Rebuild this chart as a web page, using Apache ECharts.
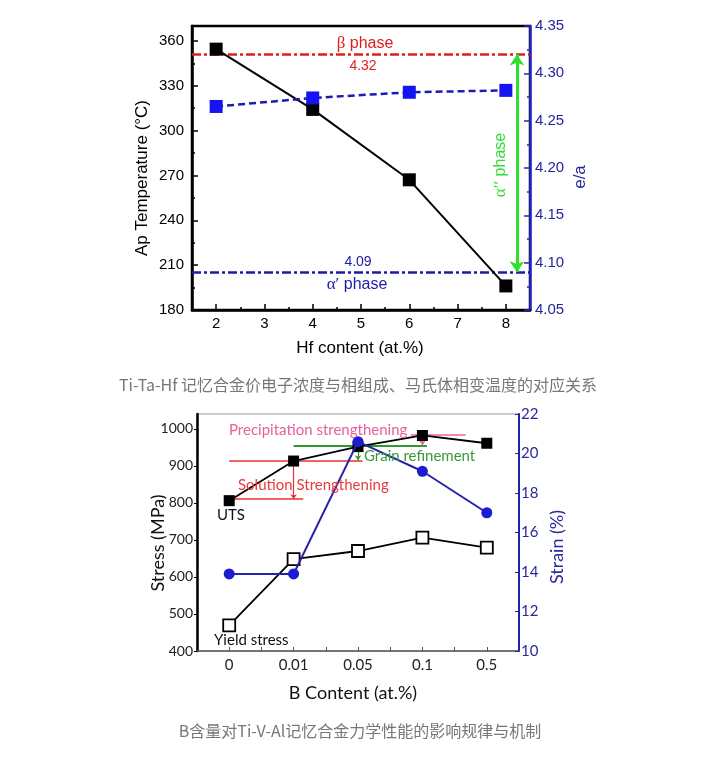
<!DOCTYPE html>
<html><head><meta charset="utf-8">
<script src="https://cdn.jsdelivr.net/npm/echarts@6/dist/echarts.min.js"></script>
<style>html,body{margin:0;padding:0;background:#fff}#c{width:719px;height:780px}</style>
</head><body><div id="c"></div>
<script>
// ---------- Chart 1: Ti-Ta-Hf ----------
const hfContent = [2, 4, 6, 8];
const apTemperature = [354.5, 314.2, 267.1, 196.1];
const eaRatio = [4.265, 4.274, 4.280, 4.282];
const betaBoundary = 4.32;
const alphaBoundary = 4.09;
const alphaArrowX = 8.23;
const hfRange = [1.5, 8.5];
const hfTicks = [2, 3, 4, 5, 6, 7, 8];
const hfMinorTicks = [2.5, 3.5, 4.5, 5.5, 6.5, 7.5];
const tempRange = [180, 370];
const tempTicks = [180, 210, 240, 270, 300, 330, 360];
const tempMinorTicks = [195, 225, 255, 285, 315, 345];
const eaRange = [4.05, 4.35];
const eaTicks = [4.05, 4.10, 4.15, 4.20, 4.25, 4.30, 4.35];
const eaMinorTicks = [4.075, 4.125, 4.175, 4.225, 4.275, 4.325];

// ---------- Chart 2: Ti-V-Al ----------
const bContent = ['0', '0.01', '0.05', '0.1', '0.5'];
const uts = [806, 913, 952, 982, 961];
const yieldStress = [469, 648, 670, 706, 679];
const strain = [13.9, 13.9, 20.6, 19.1, 17.0];
const stressRange = [400, 1040];
const stressTicks = [400, 500, 600, 700, 800, 900, 1000];
const strainRange = [10, 22];
const strainTicks = [10, 12, 14, 16, 18, 20, 22];
const bTickPositions = [0, 0.5, 1, 1.5, 2, 2.5, 3, 3.5, 4];
// mechanism level lines: [xStart, xEnd, stress]
const solutionLevels = [[0, 1.15, 810], [0, 2.07, 915]];
const grainLevel = [1.0, 3.07, 955];
const precipLevel = [2.82, 3.67, 985];
// mechanism arrows: [x, fromStress, toStress]
const solutionArrow = [1.0, 810, 915];
const grainArrow = [2.0, 915, 955];
const precipArrow = [3.0, 955, 985];

const SANS = 'Liberation Sans, Arial, sans-serif';
const CAL = 'Lato, Open Sans, sans-serif';
const CJK = 'Noto Sans CJK SC, sans-serif';
const BLUE_AX = '#2424c8';
const BLUE_TX = '#25259a';

function zip(xs, ys) { return xs.map((x, i) => [x, ys[i]]); }
function hline(l, color, w) { return { coords: [[l[0], l[2]], [l[1], l[2]]], lineStyle: { color: color, width: w, opacity: 1 } }; }
function varrow(a, color) { return { coords: [[a[0], a[1]], [a[0], a[2]]], lineStyle: { color: color, width: 1.2, opacity: 1 } }; }

const chart = echarts.init(document.getElementById('c'), null, { renderer: 'canvas' });

const option = {
  backgroundColor: '#fff',
  animation: false,
  grid: [
    { left: 192, top: 26, width: 338, height: 284, show: true, borderColor: '#000', borderWidth: 2.5, backgroundColor: 'transparent' },
    { left: 197, top: 414, width: 322, height: 237, show: true, borderColor: '#999', borderWidth: 1, backgroundColor: 'transparent' }
  ],
  xAxis: [
    { gridIndex: 0, type: 'value', min: hfRange[0], max: hfRange[1], position: 'bottom',
      axisLine: { onZero: false, lineStyle: { color: '#000', width: 2.5 } },
      axisTick: { inside: true, length: 6, lineStyle: { width: 1.5 }, customValues: hfTicks },
      axisLabel: { customValues: hfTicks, color: '#000', fontSize: 15, fontFamily: SANS, margin: 6 },
      splitLine: { show: false } },
    { gridIndex: 0, type: 'value', min: hfRange[0], max: hfRange[1], position: 'bottom',
      axisLine: { show: false, onZero: false },
      axisTick: { inside: true, length: 3, lineStyle: { width: 1.5, color: '#000' }, customValues: hfMinorTicks },
      axisLabel: { show: false }, splitLine: { show: false } },
    { gridIndex: 1, type: 'value', min: -0.5, max: bContent.length - 0.5, position: 'bottom',
      axisLine: { onZero: false, lineStyle: { color: '#555', width: 1.5 } },
      axisTick: { inside: true, length: 4, lineStyle: { color: '#555', width: 1 }, customValues: bTickPositions },
      axisLabel: { customValues: bContent.map((c, i) => i), formatter: v => bContent[Math.round(v)], color: '#222', fontSize: 15, fontFamily: CAL, margin: 7 },
      splitLine: { show: false } }
  ],
  yAxis: [
    { gridIndex: 0, type: 'value', min: tempRange[0], max: tempRange[1], position: 'left',
      axisLine: { show: true, onZero: false, lineStyle: { color: '#000', width: 2.5 } },
      axisTick: { show: true, inside: true, length: 6, lineStyle: { width: 1.5 }, customValues: tempTicks },
      axisLabel: { customValues: tempTicks, color: '#000', fontSize: 15, fontFamily: SANS, margin: 8 },
      splitLine: { show: false } },
    { gridIndex: 0, type: 'value', min: tempRange[0], max: tempRange[1], position: 'left',
      axisLine: { show: false, onZero: false },
      axisTick: { show: true, inside: true, length: 3, lineStyle: { width: 1.5, color: '#000' }, customValues: tempMinorTicks },
      axisLabel: { show: false }, splitLine: { show: false } },
    { gridIndex: 0, type: 'value', min: eaRange[0], max: eaRange[1], position: 'right',
      axisLine: { show: true, onZero: false, lineStyle: { color: BLUE_AX, width: 2.5 } },
      axisTick: { show: true, inside: true, length: 6, lineStyle: { width: 1.5, color: BLUE_AX }, customValues: eaTicks },
      axisLabel: { customValues: eaTicks, formatter: v => v.toFixed(2), color: BLUE_TX, fontSize: 15, fontFamily: SANS, margin: 5 },
      splitLine: { show: false } },
    { gridIndex: 0, type: 'value', min: eaRange[0], max: eaRange[1], position: 'right',
      axisLine: { show: false, onZero: false },
      axisTick: { show: true, inside: true, length: 3, lineStyle: { width: 1.5, color: BLUE_AX }, customValues: eaMinorTicks },
      axisLabel: { show: false }, splitLine: { show: false } },
    { gridIndex: 1, type: 'value', min: stressRange[0], max: stressRange[1], position: 'left',
      axisLine: { show: true, onZero: false, lineStyle: { color: '#000', width: 2.5 } },
      axisTick: { show: true, inside: false, length: 3, lineStyle: { width: 1, color: '#000' }, customValues: stressTicks },
      axisLabel: { customValues: stressTicks, formatter: v => String(v), color: '#222', fontSize: 14, fontFamily: CAL, margin: 4 },
      splitLine: { show: false } },
    { gridIndex: 1, type: 'value', min: strainRange[0], max: strainRange[1], position: 'right',
      axisLine: { show: true, onZero: false, lineStyle: { color: '#2020a8', width: 2 } },
      axisTick: { show: true, inside: true, length: 4, lineStyle: { width: 1, color: '#2020a8' }, customValues: strainTicks },
      axisLabel: { customValues: strainTicks, formatter: v => String(v), color: '#2a2a9a', fontSize: 15, fontFamily: CAL, margin: 2 },
      splitLine: { show: false } }
  ],
  series: [
    // chart 1 phase boundaries
    { type: 'lines', coordinateSystem: 'cartesian2d', xAxisIndex: 0, yAxisIndex: 2, z: 2, silent: true,
      data: [
        { coords: [[hfRange[0], betaBoundary], [hfRange[1], betaBoundary]], lineStyle: { color: '#e01e1e', width: 2.5, opacity: 1, type: [9, 3, 3, 3] } },
        { coords: [[hfRange[0], alphaBoundary], [hfRange[1], alphaBoundary]], lineStyle: { color: '#1c1ca8', width: 2.5, opacity: 1, type: [9, 3, 3, 3] } }
      ] },
    { type: 'lines', coordinateSystem: 'cartesian2d', xAxisIndex: 0, yAxisIndex: 2, z: 3, silent: true,
      symbol: ['arrow', 'arrow'], symbolSize: 11,
      data: [{ coords: [[alphaArrowX, betaBoundary], [alphaArrowX, alphaBoundary]], lineStyle: { color: '#2ee02e', width: 3, opacity: 1 } }] },
    { type: 'line', xAxisIndex: 0, yAxisIndex: 0, data: zip(hfContent, apTemperature), z: 5,
      symbol: 'rect', symbolSize: 13, itemStyle: { color: '#000' }, lineStyle: { color: '#000', width: 2 } },
    { type: 'line', xAxisIndex: 0, yAxisIndex: 2, data: zip(hfContent, eaRatio), z: 6,
      symbol: 'rect', symbolSize: 13, itemStyle: { color: '#1414f0' }, lineStyle: { color: '#1c1cb4', width: 2.5, type: [7, 4] } },
    // chart 2 mechanism annotations
    { type: 'lines', coordinateSystem: 'cartesian2d', xAxisIndex: 2, yAxisIndex: 4, z: 2, silent: true,
      data: [hline(solutionLevels[0], '#e83232', 1.5), hline(solutionLevels[1], '#e83232', 1.5),
             hline(grainLevel, '#2f9a2f', 2), hline(precipLevel, '#ee5fa0', 1.5)] },
    { type: 'lines', coordinateSystem: 'cartesian2d', xAxisIndex: 2, yAxisIndex: 4, z: 2, silent: true,
      symbol: ['arrow', 'arrow'], symbolSize: 5,
      data: [varrow(solutionArrow, '#e83232'), varrow(grainArrow, '#2f9a2f'), varrow(precipArrow, '#ee5fa0')] },
    { type: 'line', xAxisIndex: 2, yAxisIndex: 4, data: uts.map((v, i) => [i, v]), z: 5,
      symbol: 'rect', symbolSize: 11, itemStyle: { color: '#000' }, lineStyle: { color: '#000', width: 1.8 } },
    { type: 'line', xAxisIndex: 2, yAxisIndex: 4, data: yieldStress.map((v, i) => [i, v]), z: 5,
      symbol: 'rect', symbolSize: 12, itemStyle: { color: '#fff', borderColor: '#000', borderWidth: 1.8 }, lineStyle: { color: '#000', width: 1.8 } },
    { type: 'line', xAxisIndex: 2, yAxisIndex: 5, data: strain.map((v, i) => [i, v]), z: 6,
      symbol: 'circle', symbolSize: 11, itemStyle: { color: '#1c1cd0' }, lineStyle: { color: '#2424a8', width: 2 } }
  ],
  graphic: [
    // chart 1 texts
    { type: 'text', x: 142, y: 178, rotation: Math.PI / 2, z: 100, style: { text: 'Ap Temperature (°C)', fontSize: 17, fontFamily: SANS, fill: '#000', align: 'center', verticalAlign: 'middle' } },
    { type: 'text', x: 580, y: 177, rotation: Math.PI / 2, z: 100, style: { text: 'e/a', fontSize: 17, fontFamily: SANS, fill: BLUE_TX, align: 'center', verticalAlign: 'middle' } },
    { type: 'text', x: 360, y: 348, z: 100, style: { text: 'Hf content (at.%)', fontSize: 17, fontFamily: SANS, fill: '#000', align: 'center', verticalAlign: 'middle' } },
    { type: 'text', x: 365, y: 44, z: 100, style: { text: '{g|β} phase', fontSize: 16, fontFamily: SANS, fill: '#e01e1e', align: 'center', verticalAlign: 'middle', rich: { g: { fontFamily: 'Liberation Serif, serif', fontSize: 17, fill: '#e01e1e' } } } },
    { type: 'text', x: 363, y: 66, z: 100, style: { text: '4.32', fontSize: 14, fontFamily: SANS, fill: '#e01e1e', align: 'center', verticalAlign: 'middle' } },
    { type: 'text', x: 358, y: 262, z: 100, style: { text: '4.09', fontSize: 14, fontFamily: SANS, fill: '#1c1ca8', align: 'center', verticalAlign: 'middle' } },
    { type: 'text', x: 357, y: 285, z: 100, style: { text: '{g|α′} phase', fontSize: 16, fontFamily: SANS, fill: '#1c1ca8', align: 'center', verticalAlign: 'middle', rich: { g: { fontFamily: 'Liberation Serif, serif', fontSize: 17, fill: '#1c1ca8' } } } },
    { type: 'text', x: 501, y: 165, rotation: Math.PI / 2, z: 100, style: { text: '{g|α′′} phase', fontSize: 16, fontFamily: SANS, fill: '#33dd33', align: 'center', verticalAlign: 'middle', rich: { g: { fontFamily: 'Liberation Serif, serif', fontSize: 17, fill: '#33dd33' } } } },
    // caption 1
    { type: 'text', x: 358, y: 385, z: 100, style: { text: 'Ti-Ta-Hf 记忆合金价电子浓度与相组成、马氏体相变温度的对应关系', fontSize: 16, fontFamily: CJK, fill: '#777', align: 'center', verticalAlign: 'middle' } },
    // chart 2 texts
    { type: 'text', x: 158, y: 543, rotation: Math.PI / 2, z: 100, style: { text: 'Stress (MPa)', fontSize: 18, fontFamily: CAL, fill: '#111', align: 'center', verticalAlign: 'middle' } },
    { type: 'text', x: 557, y: 547, rotation: Math.PI / 2, z: 100, style: { text: 'Strain (%)', fontSize: 18, fontFamily: CAL, fill: '#2a2a9a', align: 'center', verticalAlign: 'middle' } },
    { type: 'text', x: 353, y: 693, z: 100, style: { text: 'B Content (at.%)', fontSize: 18, fontFamily: CAL, fill: '#111', align: 'center', verticalAlign: 'middle' } },
    { type: 'text', x: 229, y: 430, z: 100, style: { text: 'Precipitation strengthening', fontSize: 15, fontFamily: CAL, fill: '#e8609c', align: 'left', verticalAlign: 'middle' } },
    { type: 'text', x: 364, y: 456, z: 100, style: { text: 'Grain refinement', fontSize: 15, fontFamily: CAL, fill: '#3a9a3a', align: 'left', verticalAlign: 'middle' } },
    { type: 'text', x: 238, y: 485, z: 100, style: { text: 'Solution Strengthening', fontSize: 15, fontFamily: CAL, fill: '#e83c3c', align: 'left', verticalAlign: 'middle' } },
    { type: 'text', x: 217, y: 515, z: 100, style: { text: 'UTS', fontSize: 15, fontFamily: CAL, fill: '#111', align: 'left', verticalAlign: 'middle' } },
    { type: 'text', x: 214, y: 640, z: 100, style: { text: 'Yield stress', fontSize: 15, fontFamily: CAL, fill: '#111', align: 'left', verticalAlign: 'middle' } },
    // caption 2
    { type: 'text', x: 360, y: 731, z: 100, style: { text: 'B含量对Ti-V-Al记忆合金力学性能的影响规律与机制', fontSize: 16, fontFamily: CJK, fill: '#777', align: 'center', verticalAlign: 'middle' } }
  ]
};
chart.setOption(option);
</script>
</body></html>
